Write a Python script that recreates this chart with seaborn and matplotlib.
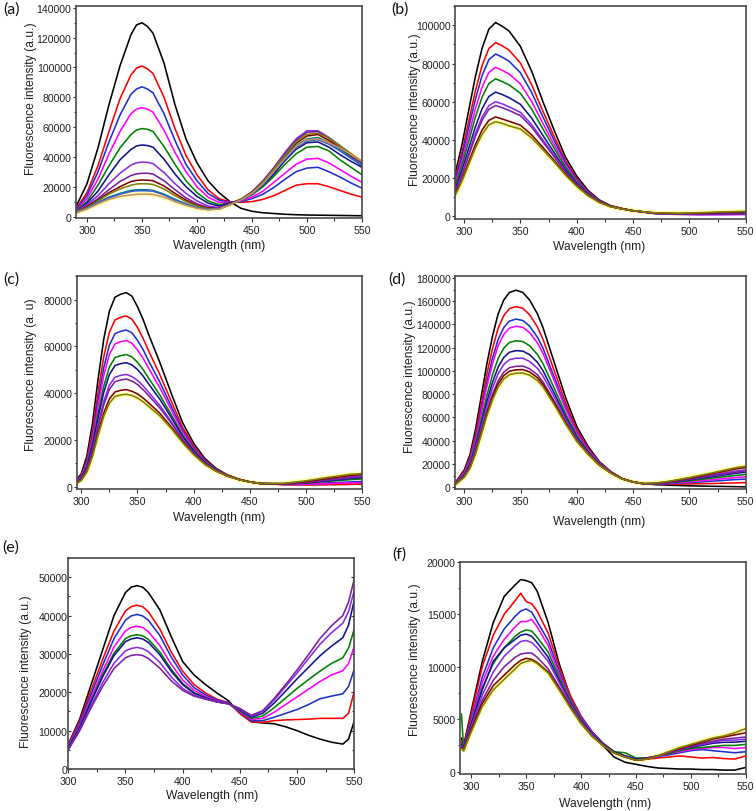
import numpy as np
import pandas as pd
import matplotlib
matplotlib.use("Agg")
import matplotlib.pyplot as plt
import seaborn as sns
from matplotlib.ticker import MultipleLocator

# ---------------- data (intensities in thousands of a.u.) ----------------
wl_a = [290, 300, 310, 320, 330, 340, 345, 350, 355, 360, 370, 380, 390, 400, 410,
        420, 430, 440, 450, 460, 470, 480, 490, 500, 510, 520, 530, 540, 550]
a_curves = [
    [6.5, 22, 46, 75, 101, 122, 128.5, 130, 127.5, 123, 103, 75, 52, 36, 24, 16, 10, 5.5, 3.5, 2.5, 2, 1.5, 1.2, 1, 0.9, 0.8, 0.7, 0.6, 0.5],
    [5, 16, 34, 57, 79, 95, 99.5, 101, 99, 96, 80, 59, 41, 28, 18, 12, 9.8, 9.5, 10, 11.5, 14, 17.5, 21, 22, 22, 20, 17.5, 15, 13],
    [4.5, 14, 30, 50, 68, 82, 85.5, 87, 85.5, 83, 69, 51, 35, 24, 15.5, 11, 9.5, 10, 12, 15, 19.5, 25, 30, 32.5, 33, 30, 26.5, 22.5, 19],
    [4, 12, 25, 42, 57, 69, 72, 73, 72, 70, 58, 43, 30, 20, 13, 9.5, 9.5, 10.5, 13, 17, 23, 29, 35, 38.5, 39, 36, 31.5, 27, 23],
    [4, 10, 21, 34, 46, 55, 58, 59, 58.5, 57, 47, 35, 24, 16, 10.5, 8, 9, 11, 14.5, 20, 27, 35, 42, 46.5, 47, 44, 38, 33, 28],
    [3.5, 9, 17, 28, 38, 45, 47.3, 48, 47.6, 46.5, 38.5, 28.5, 20, 13.5, 9, 7, 9, 11, 15, 21, 28.5, 37.5, 45, 49.5, 50, 46.5, 41.5, 37, 33],
    [3.5, 8, 14, 22, 29, 34.5, 36, 36.5, 36.3, 35.5, 29.5, 22, 15.5, 10.5, 7, 6, 8.5, 11.5, 16.5, 24, 33, 43, 52, 57.5, 57.5, 53, 47.5, 42, 36.5],
    [3, 7, 12, 18, 23.5, 27.5, 28.6, 29, 29, 28.5, 24, 18, 12.5, 8.5, 6, 5.5, 8.5, 11.5, 16.5, 23.5, 32.5, 42, 51, 56.5, 57, 52.5, 47, 41, 35.5],
    [3, 6.5, 11, 16, 20, 23.5, 24.2, 24.5, 24.4, 24, 20.5, 15.5, 11, 7.5, 5.5, 5.2, 8.5, 11.5, 16, 23, 31.5, 40.5, 49, 54, 55, 51, 46, 40, 34],
    [3, 6, 10.5, 15, 18.5, 21, 21.8, 22, 21.9, 21.5, 18.5, 14, 10, 7, 5.2, 5, 8, 11.5, 16, 23, 32, 41, 50, 55, 56, 52.5, 47.5, 42, 37],
    [2.5, 5.5, 9.5, 13, 15.5, 17.5, 17.9, 18, 17.9, 17.5, 15, 11.5, 8.5, 6, 4.8, 5, 8, 11, 15.5, 22, 30.5, 39.5, 47.5, 52, 53, 49.5, 45, 39.5, 34],
    [2.5, 5.3, 9, 12.5, 15, 16.8, 17.2, 17.3, 17.2, 17, 14.5, 11, 8.2, 5.8, 4.7, 5, 8, 11, 15, 21.5, 30, 38.5, 46, 50.5, 51.5, 48.5, 44, 39, 34.5],
    [2.5, 5, 8.5, 11.5, 13.5, 14.5, 14.9, 15, 15, 14.8, 13, 10, 7.5, 5.5, 4.5, 5, 8, 11, 15.5, 22, 30.5, 39, 47, 51.5, 52, 49.5, 46, 41.5, 37],
]

wl_b = [292, 298, 304, 310, 316, 322, 328, 334, 340, 350, 360, 370, 380, 390, 400,
        410, 420, 430, 440, 450, 470, 490, 510, 530, 550]
b_curves = [
    [22, 37, 55, 73, 88, 98, 101.5, 99.5, 97, 89, 76, 60, 45, 31, 21, 13.5, 8.5, 5.5, 4, 2.8, 1.6, 1.2, 1.2, 1.4, 1.6],
    [19.7, 33.2, 49.3, 65.5, 78.9, 87.9, 91.0, 89.3, 87.0, 80.3, 68.9, 55.0, 41.7, 29.1, 19.9, 12.9, 8.2, 5.4, 4.0, 2.8, 1.5, 1.1, 1.0, 1.0, 1.1],
    [18.4, 31.0, 46.0, 61.1, 73.7, 82.0, 85.0, 83.3, 81.2, 75.2, 64.8, 52.0, 39.7, 28.0, 19.3, 12.6, 8.1, 5.3, 3.9, 2.8, 1.5, 1.1, 1.0, 1.1, 1.3],
    [16.9, 28.4, 42.2, 56.1, 67.6, 75.3, 78.0, 76.4, 74.5, 69.4, 60.1, 48.6, 37.5, 26.7, 18.6, 12.2, 7.9, 5.2, 3.9, 2.8, 1.4, 1.0, 0.8, 0.8, 0.9],
    [15.6, 26.2, 39.0, 51.8, 62.4, 69.5, 72.0, 70.5, 68.8, 64.4, 56.1, 45.7, 35.6, 25.6, 18.0, 11.9, 7.8, 5.2, 3.9, 2.8, 1.5, 1.2, 1.2, 1.5, 1.8],
    [14.1, 23.7, 35.2, 46.7, 56.3, 62.7, 65.0, 63.7, 62.1, 58.6, 51.4, 42.3, 33.3, 24.3, 17.2, 11.6, 7.6, 5.1, 3.9, 2.8, 1.4, 1.1, 1.0, 1.2, 1.4],
    [13.0, 21.9, 32.5, 43.1, 52.0, 57.9, 60.0, 58.8, 57.3, 54.4, 48.0, 39.9, 31.8, 23.4, 16.7, 11.3, 7.5, 5.0, 3.8, 2.8, 1.3, 0.9, 0.8, 0.8, 0.9],
    [12.6, 21.1, 31.4, 41.7, 50.2, 56.0, 58.0, 56.8, 55.4, 52.7, 46.7, 38.9, 31.1, 23.0, 16.5, 11.2, 7.4, 5.0, 3.8, 2.8, 1.3, 1.0, 0.9, 1.0, 1.1],
    [11.3, 18.9, 28.2, 37.4, 45.1, 50.2, 52.0, 50.9, 49.7, 47.7, 42.6, 36.0, 29.2, 21.9, 15.9, 10.9, 7.3, 5.0, 3.8, 2.8, 1.6, 1.4, 1.6, 2.0, 2.3],
    [10.7, 18.1, 26.8, 35.6, 42.9, 47.8, 49.5, 48.6, 47.3, 45.7, 41.0, 34.8, 28.4, 21.5, 15.6, 10.7, 7.2, 4.9, 3.8, 2.8, 1.7, 1.5, 1.8, 2.2, 2.5],
]

wl_c = [296, 300, 305, 310, 315, 320, 325, 330, 335, 340, 345, 350, 355, 360, 370,
        380, 390, 400, 410, 420, 430, 440, 450, 460, 480, 500, 520, 540, 550]
c_curves = [
    [3, 5.5, 13, 27, 46, 63, 75, 81, 82.3, 83, 81.5, 77, 71.5, 65, 53, 40, 27.5, 18.5, 12, 7.8, 5, 3.2, 2, 1.3, 0.9, 0.8, 0.9, 1.0, 1.0],
    [2.6, 4.8, 11.4, 23.8, 40.5, 55.4, 66.0, 71.3, 72.4, 73.0, 71.7, 68.1, 63.4, 58.0, 47.8, 36.6, 25.5, 17.4, 11.4, 7.5, 4.9, 3.2, 2.0, 1.3, 0.9, 0.8, 0.9, 1.0, 1.1],
    [2.4, 4.4, 10.5, 21.8, 37.1, 50.8, 60.5, 65.4, 66.4, 67.0, 65.8, 62.6, 58.6, 53.7, 44.6, 34.4, 24.3, 16.7, 11.1, 7.3, 4.8, 3.1, 2.0, 1.3, 1.0, 1.2, 1.6, 2.0, 2.2],
    [2.3, 4.1, 9.8, 20.3, 34.6, 47.4, 56.5, 61.0, 62.0, 62.5, 61.4, 58.5, 54.9, 50.6, 42.2, 32.9, 23.4, 16.2, 10.8, 7.2, 4.8, 3.1, 2.0, 1.3, 0.9, 1.0, 1.3, 1.6, 1.7],
    [2.0, 3.7, 8.9, 18.4, 31.3, 42.9, 51.1, 55.2, 56.0, 56.5, 55.5, 53.2, 50.1, 46.3, 39.1, 30.8, 22.2, 15.6, 10.5, 7.1, 4.7, 3.1, 2.0, 1.3, 1.1, 1.5, 2.3, 3.0, 3.3],
    [1.9, 3.5, 8.3, 17.3, 29.4, 40.3, 47.9, 51.8, 52.6, 53.0, 52.1, 50.1, 47.3, 43.9, 37.3, 29.6, 21.5, 15.2, 10.3, 7.0, 4.6, 3.1, 2.0, 1.3, 1.1, 1.6, 2.5, 3.5, 3.8],
    [1.7, 3.2, 7.5, 15.6, 26.6, 36.4, 43.4, 46.8, 47.6, 48.0, 47.1, 45.5, 43.1, 40.3, 34.7, 27.8, 20.5, 14.6, 10.0, 6.8, 4.6, 3.1, 2.0, 1.3, 1.2, 1.9, 3.0, 4.2, 4.6],
    [1.7, 3.0, 7.2, 15.0, 25.5, 34.9, 41.6, 44.9, 45.6, 46.0, 45.2, 43.7, 41.5, 38.9, 33.6, 27.2, 20.1, 14.4, 9.9, 6.8, 4.6, 3.1, 2.0, 1.3, 1.2, 1.8, 2.8, 3.8, 4.2],
    [1.5, 2.8, 6.5, 13.5, 23.0, 31.5, 37.5, 40.5, 41.2, 41.5, 40.8, 39.7, 37.9, 35.8, 31.3, 25.6, 19.3, 13.9, 9.6, 6.6, 4.5, 3.0, 2.0, 1.3, 1.3, 2.2, 3.5, 4.8, 5.2],
    [1.4, 2.6, 6.2, 12.9, 21.9, 30.0, 35.7, 38.6, 39.2, 39.5, 39.0, 37.9, 36.3, 34.3, 30.2, 24.9, 18.9, 13.7, 9.5, 6.6, 4.5, 3.0, 2.0, 1.3, 1.4, 2.5, 4.0, 5.3, 5.6],
]

wl_d = [292, 300, 305, 310, 315, 320, 325, 330, 335, 340, 346, 352, 358, 365, 370,
        380, 390, 400, 410, 420, 430, 440, 450, 460, 470, 480, 500, 520, 540, 550]
d_curves = [
    [4, 15, 28, 50, 78, 106, 130, 149, 161, 167.5, 169.5, 167.5, 161, 149, 137, 107, 77, 52, 35, 22, 13.5, 7.5, 4.5, 3, 2.2, 1.8, 1.2, 0.8, 0.5, 0.3],
    [3.7, 13.8, 25.7, 45.9, 71.5, 97.2, 119.2, 136.6, 147.6, 153.6, 155.4, 153.9, 148.3, 137.7, 127.0, 99.9, 72.5, 49.5, 33.7, 21.4, 13.3, 7.4, 4.5, 2.8, 2.5, 2.5, 2.8, 3.2, 3.7, 4.0],
    [3.4, 12.8, 23.9, 42.7, 66.5, 90.4, 110.9, 127.1, 137.3, 142.9, 144.6, 143.4, 138.5, 129.0, 119.3, 94.4, 69.1, 47.6, 32.6, 20.9, 13.1, 7.4, 4.5, 2.8, 2.8, 3.0, 4.0, 5.2, 6.5, 7.0],
    [3.3, 12.3, 22.9, 40.9, 63.7, 86.6, 106.2, 121.7, 131.5, 136.8, 138.5, 137.5, 133.0, 124.1, 114.9, 91.4, 67.1, 46.5, 32.1, 20.6, 13.0, 7.4, 4.5, 2.8, 2.9, 3.3, 4.7, 6.4, 8.2, 9.0],
    [3.0, 11.1, 20.8, 37.2, 58.0, 78.8, 96.6, 110.7, 119.6, 124.5, 126.0, 125.3, 121.7, 114.1, 106.0, 85.0, 63.1, 44.3, 30.9, 20.1, 12.7, 7.3, 4.5, 2.9, 3.0, 3.6, 5.5, 7.8, 10.0, 11.0],
    [2.8, 10.4, 19.4, 34.7, 54.1, 73.5, 90.1, 103.3, 111.6, 116.1, 117.5, 117.1, 114.0, 107.4, 100.0, 80.7, 60.4, 42.7, 30.1, 19.7, 12.6, 7.3, 4.5, 2.9, 3.1, 3.9, 6.3, 9.0, 11.8, 13.0],
    [2.6, 9.8, 18.3, 32.8, 51.1, 69.4, 85.2, 97.6, 105.5, 109.7, 111.0, 110.9, 108.2, 102.2, 95.4, 77.5, 58.4, 41.6, 29.4, 19.4, 12.5, 7.2, 4.5, 3.0, 3.3, 4.3, 7.2, 10.5, 13.8, 15.0],
    [2.5, 9.2, 17.2, 30.7, 47.9, 65.1, 79.8, 91.5, 98.9, 102.8, 104.0, 104.2, 101.9, 96.7, 90.4, 73.9, 56.2, 40.4, 28.8, 19.1, 12.4, 7.2, 4.5, 3.0, 3.2, 4.1, 6.8, 9.8, 12.8, 14.0],
    [2.4, 8.9, 16.7, 29.8, 46.5, 63.2, 77.5, 88.8, 96.0, 99.8, 101.0, 101.2, 99.2, 94.2, 88.2, 72.4, 55.2, 39.8, 28.5, 19.0, 12.3, 7.2, 4.5, 3.1, 3.5, 4.6, 7.8, 11.5, 15.5, 17.0],
    [2.3, 8.7, 16.2, 28.9, 45.1, 61.3, 75.1, 86.1, 93.1, 96.8, 98.0, 98.2, 96.4, 91.8, 86.2, 70.8, 54.3, 39.3, 28.2, 18.9, 12.2, 7.2, 4.5, 3.1, 3.6, 4.8, 8.3, 12.3, 16.6, 18.0],
]

wl_e = [300, 310, 320, 330, 340, 350, 355, 360, 365, 370, 380, 390, 400, 410, 420, 430,
        440, 450, 460, 470, 480, 490, 500, 510, 520, 530, 540, 545, 550]
e_curves = [
    [6.5, 13, 22, 31, 40, 46, 47.4, 47.8, 47.4, 46, 41.5, 34.5, 28, 24.5, 22, 19.8, 17.8, 14.5, 12.3, 12, 11.8, 11, 10, 8.8, 7.8, 7, 6.5, 7.8, 12.5],
    [6.5, 12.5, 20.5, 28.5, 36, 41.2, 42.3, 42.7, 42.3, 41, 36.5, 30.5, 25.5, 22, 19.8, 18.2, 17.3, 14.5, 12.3, 12.2, 12.6, 12.8, 12.9, 13, 13.2, 13.2, 13.2, 14.5, 20.3],
    [6.2, 12, 19.5, 27, 34, 38.8, 39.9, 40.3, 39.9, 38.8, 34.8, 29.2, 24.5, 21.2, 19.3, 18, 17.3, 14.8, 12.6, 12.6, 13.5, 14.5, 15.5, 16.8, 18.3, 19, 19.6, 21.5, 26],
    [6, 11.5, 18.5, 25.5, 31.8, 36, 36.9, 37.2, 36.9, 35.8, 32.2, 27.3, 23.2, 20.5, 18.9, 17.8, 17.2, 15, 12.9, 13.2, 14.8, 16.8, 18.8, 20.8, 22.8, 24.5, 25.6, 27.5, 32],
    [5.8, 11, 17.8, 24.5, 30.2, 34, 34.7, 35, 34.7, 33.8, 30.5, 26, 22.3, 19.9, 18.6, 17.6, 17.1, 15.2, 13.2, 13.8, 16, 18.5, 21, 23.3, 25.5, 27.5, 29, 31.5, 36.5],
    [5.5, 10.8, 17.5, 24, 29.6, 33.2, 33.9, 34.2, 33.9, 33, 29.8, 25.5, 22, 19.7, 18.5, 17.5, 17, 15.4, 13.5, 14.5, 17.2, 20.3, 23.5, 26.5, 29.5, 32, 34.2, 37.5, 44],
    [5.2, 10.3, 16.5, 22.5, 27.6, 30.8, 31.4, 31.7, 31.4, 30.6, 27.8, 24, 21, 19.2, 18.3, 17.5, 17, 15.6, 13.8, 15, 18, 21.5, 25, 28.8, 32.5, 35.5, 38, 41, 46.5],
    [5, 10, 16, 21.5, 26.2, 29, 29.6, 29.8, 29.6, 28.8, 26.3, 23, 20.5, 19, 18.2, 17.5, 17, 15.8, 14, 15.2, 18.4, 22, 25.8, 29.8, 34, 37.3, 40, 43.5, 49.5],
]

wl_f = [291, 293, 300, 310, 320, 330, 340, 345, 350, 355, 360, 370, 380, 390, 400,
        410, 420, 430, 440, 450, 460, 470, 480, 490, 500, 510, 520, 530, 540, 550]
f_curves = [
    [3.2, 2.5, 5.8, 10.5, 14.2, 16.7, 17.8, 18.3, 18.2, 18.0, 17.2, 14.2, 10.3, 7.2, 5.2, 3.6, 2.5, 1.4, 0.9, 0.7, 0.5, 0.35, 0.3, 0.25, 0.25, 0.2, 0.2, 0.15, 0.15, 0.4],
    [3.0, 2.4, 5.5, 10.0, 13.0, 15.0, 16.3, 17.0, 16.2, 16.0, 15.3, 13.2, 10.0, 7.3, 5.3, 3.8, 2.7, 1.9, 1.4, 1.1, 1.2, 1.3, 1.4, 1.5, 1.4, 1.3, 1.35, 1.25, 1.2, 1.5],
    [2.8, 2.3, 5.0, 9.0, 11.8, 13.6, 14.8, 15.3, 15.5, 15.2, 14.3, 12.5, 9.6, 7.0, 5.2, 3.8, 2.7, 1.9, 1.5, 1.2, 1.3, 1.45, 1.6, 1.8, 2.0, 2.1, 2.0, 1.9, 1.8, 1.9],
    [2.7, 2.2, 4.8, 8.5, 11.0, 12.6, 13.8, 14.3, 14.3, 14.5, 13.8, 12.0, 9.3, 6.9, 5.1, 3.7, 2.6, 1.9, 1.5, 1.2, 1.3, 1.5, 1.7, 1.9, 2.1, 2.2, 2.3, 2.3, 2.2, 2.3],
    [5.5, 2.3, 4.6, 8.0, 10.3, 11.8, 12.9, 13.3, 13.5, 13.4, 12.8, 11.4, 9.0, 6.8, 5.0, 3.6, 2.6, 1.9, 1.8, 1.3, 1.3, 1.5, 1.7, 2.0, 2.2, 2.3, 2.4, 2.5, 2.5, 2.6],
    [2.6, 2.2, 4.5, 7.8, 10.5, 11.8, 12.6, 13.0, 13.1, 12.9, 12.3, 10.9, 8.7, 6.6, 4.9, 3.6, 2.6, 1.9, 1.5, 1.2, 1.3, 1.5, 1.8, 2.1, 2.3, 2.5, 2.7, 2.8, 2.8, 2.9],
    [2.5, 2.1, 4.3, 7.3, 9.5, 11.0, 12.0, 12.4, 12.5, 12.3, 11.8, 10.5, 8.5, 6.5, 4.8, 3.5, 2.5, 1.8, 1.4, 1.1, 1.25, 1.45, 1.8, 2.1, 2.4, 2.6, 2.8, 3.0, 3.0, 3.1],
    [2.4, 2.1, 4.1, 6.8, 8.7, 10.0, 10.9, 11.2, 11.3, 11.3, 10.9, 9.8, 8.1, 6.3, 4.7, 3.4, 2.5, 1.8, 1.4, 1.1, 1.2, 1.45, 1.8, 2.1, 2.4, 2.7, 2.9, 3.1, 3.2, 3.3],
    [2.3, 2.0, 4.0, 6.5, 8.2, 9.2, 10.2, 10.6, 10.8, 10.7, 10.4, 9.5, 7.9, 6.2, 4.6, 3.4, 2.5, 1.8, 1.4, 1.1, 1.2, 1.5, 1.9, 2.2, 2.5, 2.8, 3.1, 3.3, 3.5, 3.7],
    [2.2, 2.0, 3.8, 6.2, 7.8, 8.8, 9.8, 10.3, 10.5, 10.6, 10.3, 9.4, 7.8, 6.1, 4.6, 3.4, 2.5, 1.8, 1.4, 1.1, 1.2, 1.5, 1.9, 2.3, 2.6, 2.9, 3.2, 3.4, 3.7, 4.1],
]

# ---------------- styles ----------------
ORIGIN = ['#000000', '#FF0000', '#1F2FCC', '#FF00FF', '#008000', '#12128F',
          '#8A2BE2', '#7B1FA2', '#800000', '#808000', '#008080', '#3A5FCD', '#C8906A']

sns.set_style("ticks")
plt.rcParams['font.family'] = ['Liberation Sans', 'DejaVu Sans']

fig = plt.figure(figsize=(7.56, 8.12), dpi=100)

panels = [
    # key, wl, curves, axes rect, xlim, ylim, ystep, ylabel, ylabel xy, xlabel xy, letter xy
    ('(a)', wl_a, a_curves, [0.1005, 0.7303, 0.3783, 0.2607], (290, 550), (-1000, 141000), 20000,
     'Fluorescence intensity (a.u.)', (-0.158, 0.57), (0.50, -0.128), (0.0146, 0.988)),
    ('(b)', wl_b, b_curves, [0.6019, 0.7291, 0.3845, 0.2619], (292, 550), (-1500, 110000), 20000,
     'Fluorescence intensity (a.u.)', (-0.137, 0.52), (0.495, -0.126), (0.529, 0.988)),
    ('(c)', wl_c, c_curves, [0.1015, 0.3966, 0.3778, 0.2620], (296, 550), (-1000, 90000), 20000,
     'Fluorescence intensity (a. u)', (-0.161, 0.54), (0.50, -0.133), (0.0146, 0.656)),
    ('(d)', wl_d, d_curves, [0.6023, 0.3966, 0.3841, 0.2620], (292, 550), (-1500, 181500), 20000,
     'Fluorescence intensity (a.u.)', (-0.155, 0.533), (0.494, -0.149), (0.525, 0.656)),
    ('(e)', wl_e, e_curves, [0.0903, 0.0517, 0.3783, 0.2599], (300, 550), (0, 55000), 10000,
     'Fluorescence intensity (a.u.)', (-0.148, 0.466), (0.503, -0.123), (0.0146, 0.326)),
    ('(f)', wl_f, f_curves, [0.6089, 0.0456, 0.3775, 0.2614], (290, 550), (-220, 20000), 5000,
     'Fluorescence intensity (a.u.)', (-0.158, 0.542), (0.506, -0.137), (0.528, 0.317)),
]

for key, wl, curves, rect, xlim, ylim, ystep, ylabel, ylxy, xlxy, letxy in panels:
    ax = fig.add_axes(rect)
    rows = []
    for i, vals in enumerate(curves):
        for w, v in zip(wl, vals):
            rows.append((w, v * 1000, f"c{i:02d}"))
    df = pd.DataFrame(rows, columns=['wl', 'I', 'curve'])
    pal = {f"c{i:02d}": ORIGIN[i] for i in range(len(curves))}

    # pale yellow halo under the last trace (as in the source figure)
    if key != '(e)':
        last = df[df['curve'] == f"c{len(curves)-1:02d}"]
        ax.plot(last['wl'], last['I'], color='#FFFFB0', lw=3.5, zorder=1, solid_capstyle='round')

    sns.lineplot(data=df, x='wl', y='I', hue='curve', palette=pal, legend=False,
                 estimator=None, lw=1.15, ax=ax, zorder=2)

    ax.set_xlim(*xlim)
    ax.set_ylim(*ylim)
    ax.xaxis.set_major_locator(MultipleLocator(50))
    ax.xaxis.set_minor_locator(MultipleLocator(25))
    ax.yaxis.set_major_locator(MultipleLocator(ystep))
    ax.yaxis.set_minor_locator(MultipleLocator(ystep / 2))
    ax.ticklabel_format(axis='y', style='plain', useOffset=False)
    ax.tick_params(which='both', direction='out', width=0.8, color='#333333',
                   labelsize=7.6, labelcolor='#222222')
    ax.tick_params(axis='y', which='major', length=2.5, pad=0.8)
    ax.tick_params(axis='y', which='minor', length=1.6)
    ax.tick_params(axis='x', which='major', length=3, pad=2)
    ax.tick_params(axis='x', which='minor', length=2)
    if key == '(e)':
        ax.tick_params(axis='y', which='both', right=True, direction='in')
    for s in ax.spines.values():
        s.set_color('#4a4a4a')
        s.set_linewidth(1.2)

    ax.set_xlabel('Wavelength (nm)', fontsize=8.7, color='#222222')
    ax.set_ylabel(ylabel, fontsize=8.7, color='#222222')
    ax.xaxis.set_label_coords(*xlxy)
    ax.yaxis.set_label_coords(*ylxy)
    ax.xaxis.label.set_verticalalignment('center')
    ax.yaxis.label.set_verticalalignment('center')

    fig.text(letxy[0], letxy[1], key, fontsize=11.5, family=['Lato', 'DejaVu Sans'],
             ha='center', va='center', color='#111111')

fig.savefig('out.png', dpi=100)
